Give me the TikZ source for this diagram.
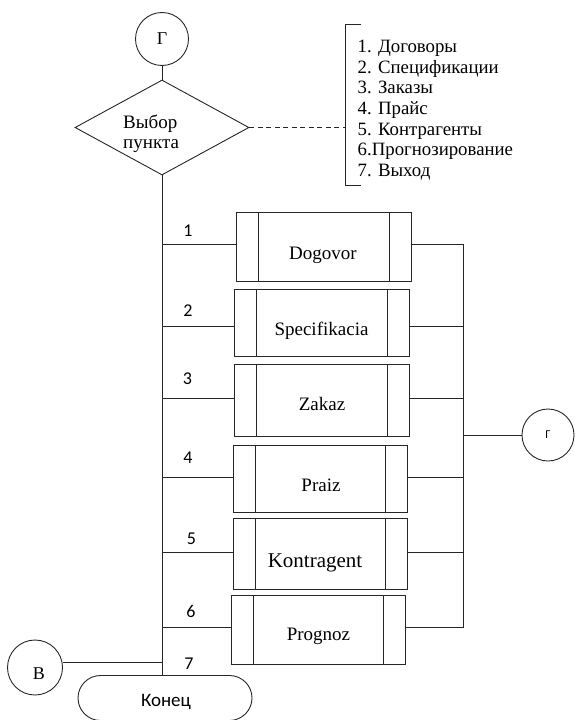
\documentclass[tikz,border=0pt]{standalone}
\usepackage{fontspec}
\setmainfont{Liberation Serif}
\newfontfamily\labelfont{Carlito}
\usetikzlibrary{shapes.geometric}

\begin{document}
\begin{tikzpicture}[x=1pt,y=-1pt,
  line/.style={line width=0.9pt, draw=black!85},
  conn/.style={circle, line, minimum size=53pt, inner sep=0pt, font=\fontsize{18}{20}\selectfont},
  decision/.style={diamond, line, minimum width=174pt, minimum height=95pt, inner sep=0pt},
  proc/.style={rectangle, line, minimum width=175pt, inner sep=0pt,
    path picture={\draw[line width=0.9pt, black!85]
      ([xshift=22pt]path picture bounding box.north west) -- ([xshift=22pt]path picture bounding box.south west)
      ([xshift=-22pt]path picture bounding box.north east) -- ([xshift=-22pt]path picture bounding box.south east);}},
  proctext/.style={inner sep=0pt, font=\fontsize{19}{22}\selectfont},
  numlabel/.style={inner sep=0pt, font=\labelfont\fontsize{18}{20}\selectfont},
  listtext/.style={inner sep=0pt, anchor=base west, font=\fontsize{18.8}{20.7}\selectfont},
  terminal/.style={rectangle, line, rounded corners=22.5pt, minimum width=174pt, minimum height=45pt,
    inner sep=0pt, font=\labelfont\fontsize{19}{21}\selectfont}
]
\useasboundingbox (0,0) rectangle (575,720);

% entry connector and menu choice
\node[conn] (gtop) at (162,39) {Г};
\node[decision] (dec) at (162,127.5) {};
\node[inner sep=0pt, anchor=base west, font=\fontsize{19}{20}\selectfont] (dtext1) at (123,128) {Выбор};
\node[inner sep=0pt, anchor=base west, font=\fontsize{19}{20}\selectfont] (dtext2) at (123,148) {пункта};
\draw[line] (gtop) -- (dec.north);

% menu items comment bracket
\coordinate (brk) at (345,127.5);
\draw[line] (361,24) -- (345,24) -- (345,185) -- (361,185);
\draw[line, dash pattern=on 5pt off 3.5pt] (dec.east) -- (brk);
\foreach \t [count=\i] in {1. Договоры, 2. Спецификации, 3. Заказы, 4. Прайс, 5. Контрагенты, 6.Прогнозирование, 7. Выход}
  \node[listtext, name=item\i] at (357.5, 52.3+20.7*\i-20.7) {\t};

% process blocks
\node[proc, minimum height=69pt] (b1) at (323.5,246.5) {};
\node[proc, minimum height=67pt] (b2) at (321.5,322.5) {};
\node[proc, minimum height=72pt] (b3) at (321.5,400) {};
\node[proc, minimum height=67pt, minimum width=174pt] (b4) at (320,478.5) {};
\node[proc, minimum height=71pt, minimum width=174pt] (b5) at (320,553.5) {};
\node[proc, minimum height=69pt, minimum width=174pt] (b6) at (318,629.5) {};

\node[proctext] (t1) at (323,255) {Dogovor};
\node[proctext] (t2) at (321.5,331) {Specifikacia};
\node[proctext] (t3) at (322,404) {Zakaz};
\node[proctext] (t4) at (321,485.5) {Praiz};
\node[proctext, font=\fontsize{21}{24}\selectfont] (t5) at (315,563) {Kontragent};
\node[proctext] (t6) at (318.5,636) {Prognoz};

% exit terminal and side connector
\node[terminal] (end) at (165,698) {};
\node[inner sep=0pt, font=\labelfont\fontsize{19}{21}\selectfont] (endtext) at (166,702) {Конец};
\node[conn, minimum size=55pt] (bcirc) at (35,667.5) {};
\node[inner sep=0pt, font=\fontsize{18}{20}\selectfont] (btext) at (39,674) {В};

% main bus
\draw[line] (dec.south) -- (dec.south |- end.north);

% branch junctions on the main bus
\coordinate (j1) at (162,244);
\coordinate (j2) at (162,326);
\coordinate (j3) at (162,398);
\coordinate (j4) at (162,477);
\coordinate (j5) at (162,552);
\coordinate (j6) at (162,627.5);
\coordinate (j7) at (162,662);
\coordinate (rb) at (463,0);

\foreach \k in {1,...,6} {
  \draw[line] (j\k) -- (j\k -| b\k.west);
  \draw[line] (j\k -| b\k.east) -- (j\k -| rb);
}
\draw[line] (j1 -| rb) -- (j6 -| rb);

% return connector on the right
\node[conn, minimum size=52pt, font=\labelfont\fontsize{12}{14}\selectfont] (gright) at (548,435) {Г};
\draw[line] (gright.west -| rb) -- (gright.west);

% exit branch
\draw[line] (bcirc.east |- j7) -- (j7);

% branch numbers
\node[numlabel] (n1) at (188,231) {1};
\node[numlabel] (n2) at (188,311) {2};
\node[numlabel] (n3) at (187.5,379) {3};
\node[numlabel] (n4) at (188,458) {4};
\node[numlabel] (n5) at (191.5,539) {5};
\node[numlabel] (n6) at (191,611.5) {6};
\node[numlabel] (n7) at (189,663.5) {7};
\end{tikzpicture}
\end{document}
